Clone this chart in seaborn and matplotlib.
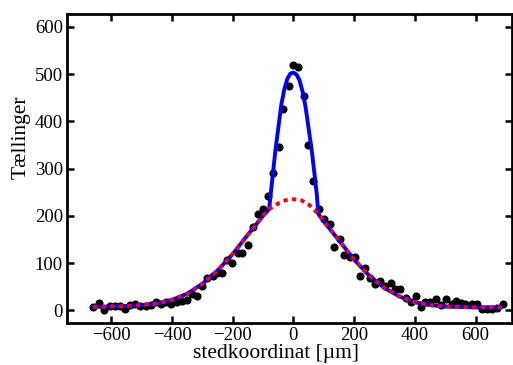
# beam profile: measured counts with narrow + broad fit

import numpy as np
import matplotlib
matplotlib.use("Agg")
import matplotlib.pyplot as plt
import seaborn as sns
import pandas as pd

# measured points (position in um, counts)
pos_um = [-659, -639, -623, -604, -587, -571, -554, -538, -522, -505,
          -485, -470, -452, -437, -419, -403, -384, -368, -351, -335,
          -318, -302, -285, -266, -252, -236, -218, -203, -184, -168,
          -150, -134, -118, -101, -85, -66, -47, -33, -15, 0,
          16, 34, 48, 66, 85, 101, 119, 134, 152, 168,
          186, 203, 220, 236, 253, 269, 286, 302, 320, 336,
          352, 371, 387, 404, 420, 434, 450, 469, 486, 503,
          522, 536, 552, 566, 588, 604, 621, 637, 654, 670, 689]
counts = [7, 15, 0, 8, 8, 8, 3, 11, 13, 10,
          8, 12, 18, 14, 18, 14, 18, 19, 21, 35,
          30, 51, 69, 72, 79, 79, 106, 100, 121, 122,
          138, 176, 204, 215, 242, 290, 346, 426, 475, 519,
          514, 454, 350, 274, 215, 193, 182, 133, 150, 116,
          112, 112, 73, 89, 68, 56, 62, 51, 57, 46,
          46, 25, 18, 30, 7, 18, 18, 23, 11, 23,
          14, 20, 16, 14, 13, 14, 2, 2, 2, 4, 14]

# broad fit (red dotted)
broad_x = [-660, -600, -550, -500, -450, -400, -350, -300, -250, -200,
           -150, -100, -80, -50, -25, 0, 25, 50, 82, 100,
           150, 200, 250, 300, 350, 400, 450, 500, 550, 600, 650, 685]
broad_y = [7, 8, 9, 11, 14, 22, 35, 56, 84, 119,
           160, 200, 214, 226, 233, 235, 233, 224, 204, 188,
           148, 107, 73, 47, 29, 17, 11, 8, 7, 6, 6, 6]

# narrow fit (blue), same as broad outside the core
narrow_x = [-660, -600, -550, -500, -450, -400, -350, -300, -250, -200,
            -150, -100, -80, -75, -70, -65, -60, -50, -40, -30,
            -20, -10, 0, 10, 20, 30, 40, 50, 60, 70,
            77, 82, 100, 150, 200, 250, 300, 350, 400, 450,
            500, 550, 600, 650, 685]
narrow_y = [7, 8, 9, 11, 14, 22, 35, 56, 84, 119,
            160, 200, 214, 245, 275, 305, 335, 385, 435, 468,
            490, 501, 503, 499, 487, 463, 430, 385, 340, 285,
            245, 204, 188, 148, 107, 73, 47, 29, 17, 11,
            8, 7, 6, 6, 6]

sns.set_theme(style="ticks")
plt.rcParams["font.family"] = ["Liberation Serif", "DejaVu Serif"]
plt.rcParams["axes.edgecolor"] = "black"
plt.rcParams["xtick.color"] = "black"
plt.rcParams["ytick.color"] = "black"
plt.rcParams["text.color"] = "black"
plt.rcParams["axes.labelcolor"] = "black"

fig = plt.figure(figsize=(5.13, 3.65), dpi=100)
ax = fig.add_axes([0.1306, 0.115, 0.8674, 0.8466])

pts = pd.DataFrame({"x": pos_um, "y": counts})
narrow = pd.DataFrame({"x": narrow_x, "y": narrow_y})
broad = pd.DataFrame({"x": broad_x, "y": broad_y})

sns.scatterplot(data=pts, x="x", y="y", ax=ax, color="black", s=34,
                edgecolor="black", linewidth=0, zorder=3)
sns.lineplot(data=narrow, x="x", y="y", ax=ax, color="#0000ff", lw=2.8,
             sort=False, estimator=None, zorder=4)
sns.lineplot(data=broad, x="x", y="y", ax=ax, color="#ff0000", lw=2.8,
             sort=False, estimator=None, linestyle=(0, (1.1, 1.1)), zorder=5)

ax.set_xlim(-746, 720)
ax.set_ylim(-27, 627)
ax.set_xticks(np.arange(-600, 601, 200))
ax.set_yticks(np.arange(0, 601, 100))
ax.tick_params(direction="in", length=5, width=1.8, top=True, right=True,
               labelsize=13.5, pad=3)
for s in ax.spines.values():
    s.set_linewidth(2.0)
    s.set_visible(True)

ax.set_xlabel("stedkoordinat [µm]", fontsize=15.5, va="center")
ax.xaxis.set_label_coords(0.47, -0.098)
ax.set_ylabel("Tællinger", fontsize=15.5, va="center")
ax.yaxis.set_label_coords(-0.102, 0.6)

fig.savefig("out.png", dpi=100)
